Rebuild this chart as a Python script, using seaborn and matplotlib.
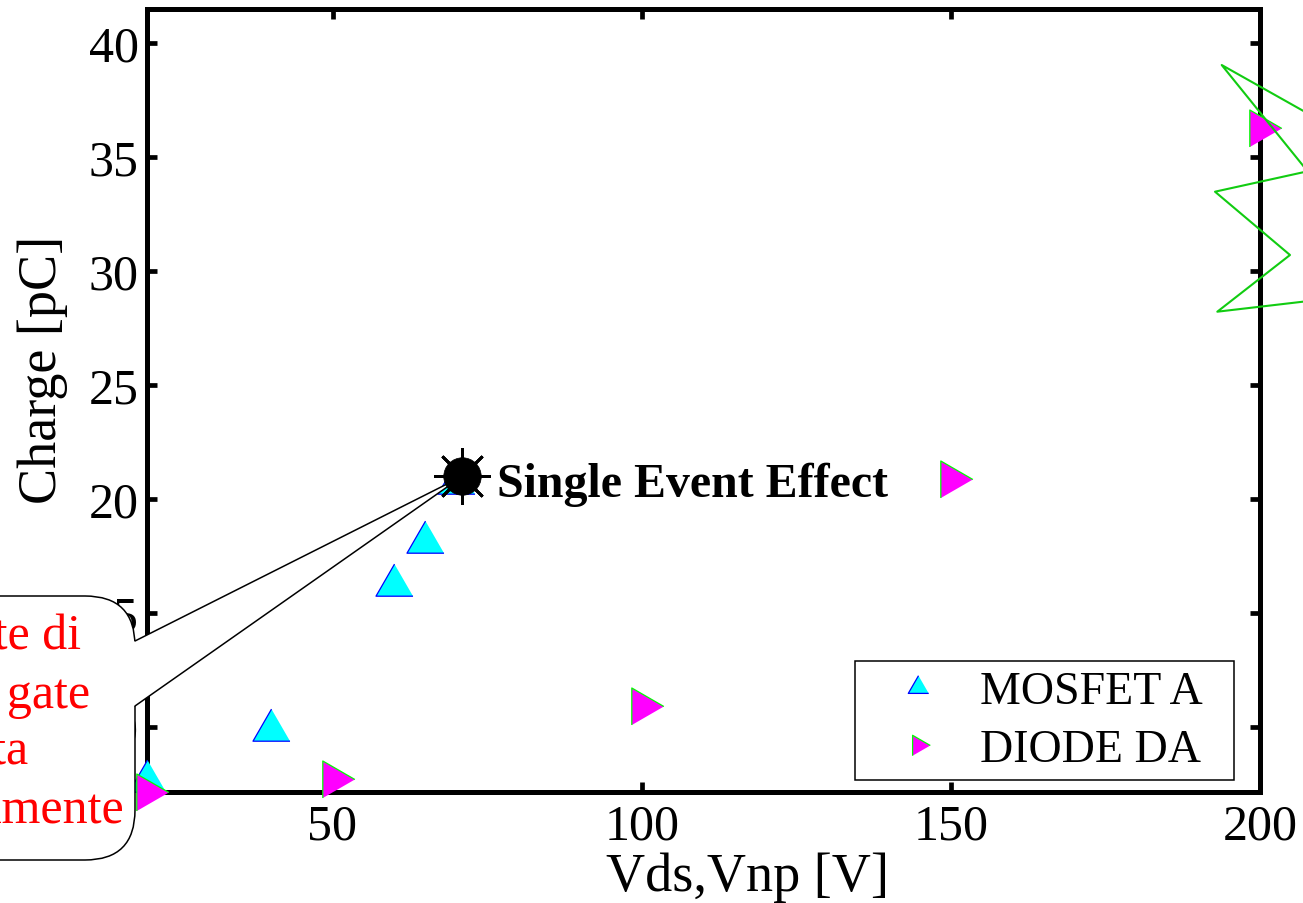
import matplotlib
matplotlib.use("Agg")
import matplotlib.pyplot as plt
import seaborn as sns
import numpy as np
from matplotlib.lines import Line2D
from matplotlib.patches import FancyBboxPatch, Polygon
from matplotlib.transforms import IdentityTransform

# ---------------- data ----------------
mosfet_v = [20, 40, 60, 65, 70]
mosfet_q = [7.62, 9.86, 16.22, 18.1, 20.69]
diode_v = [20, 50, 100, 150, 200]
diode_q = [7.17, 7.74, 10.94, 20.88, 36.3]
see_v = [71]
see_q = [21.0]
x_ticks = [50, 100, 150, 200]
y_ticks = [10, 15, 20, 25, 30, 35, 40]
series_labels = ["MOSFET A", "DIODE DA"]
see_label = "Single Event Effect"
x_label = "Vds,Vnp [V]"
y_label = "Charge [pC]"
callout_lines = ["Corrente di", "perdita del gate", "aumentata", "istantaneamente"]

# ---------------- style ----------------
sns.set_theme(style="white")
plt.rcParams["font.family"] = ["Liberation Serif", "DejaVu Serif"]
for k in ("text.color", "axes.labelcolor", "xtick.color", "ytick.color",
          "axes.edgecolor"):
    plt.rcParams[k] = "black"

W, H = 1303, 904
fig = plt.figure(figsize=(W / 100, H / 100), dpi=100)
L, R, T, B = 147, 1260, 10, 793
ax = fig.add_axes([L / W, 1 - B / H, (R - L) / W, (B - T) / H])
ax.set_xlim(20, 200)
ax.set_ylim(7.15, 41.5)

up_tri = [(0, 1), (-0.866, -0.5), (0.866, -0.5)]
right_tri = [(1, 0), (-0.5, 0.866), (-0.5, -0.866)]

sns.scatterplot(x=mosfet_v, y=mosfet_q, marker=up_tri, s=30.8 ** 2,
                color="#00ffff", edgecolor="#0000ff", linewidth=0.9,
                ax=ax, zorder=5, clip_on=False, legend=False)
sns.scatterplot(x=diode_v, y=diode_q, marker=right_tri, s=30.8 ** 2,
                color="#ff00ff", edgecolor="#00ff00", linewidth=0.9,
                ax=ax, zorder=5, clip_on=False, legend=False)

# spines & ticks
for sp in ax.spines.values():
    sp.set_linewidth(3.6)
    sp.set_color("black")
    sp.set_visible(True)
ax.set_xticks(x_ticks)
ax.set_yticks(y_ticks)
ax.tick_params(axis="both", which="major", direction="in", length=7, width=3.4,
               color="black", labelcolor="black", labelsize=36, top=True,
               right=True, bottom=True, left=True)
ax.tick_params(axis="x", pad=8)
ax.tick_params(axis="y", pad=6)
ax.grid(False)

ax.set_xlabel(x_label, fontsize=39, color="black")
ax.set_ylabel(y_label, fontsize=39, color="black")
ax.xaxis.set_label_coords((748 - L) / (R - L), (B - 853) / (B - T))
ax.yaxis.set_label_coords((68 - L) / (R - L), (B - 370) / (B - T))

# ---------------- callout (display pixels) ----------------
ident = IdentityTransform()
def disp(px, py):
    return (px, H - py)

box = FancyBboxPatch(disp(-300, 861), 435, 861 - 597,
                     boxstyle="round,pad=0,rounding_size=50",
                     transform=ident, facecolor="white", edgecolor="black",
                     linewidth=1.1, zorder=8, clip_on=False)
ax.add_patch(box)

tip = ax.transData.transform((see_v[0], see_q[0]))
b1 = disp(135, 642)
b2 = disp(135, 707)
wedge = Polygon([(b1[0] - 8, b1[1]), b1, tuple(tip), b2, (b2[0] - 8, b2[1])],
                closed=True, transform=ident, facecolor="white",
                edgecolor="none", zorder=9, clip_on=False)
ax.add_patch(wedge)
for b in (b1, b2):
    ax.add_line(Line2D([b[0], tip[0]], [b[1], tip[1]], transform=ident,
                       color="black", linewidth=1.1, zorder=9.5, clip_on=False))

callout_pos = [(81, 650), (90, 708), (28, 765), (124, 823)]
for txt, (px, py) in zip(callout_lines, callout_pos):
    ax.text(*disp(px, py), txt, transform=ident, ha="right", va="baseline",
            color="red", fontsize=36, zorder=10, clip_on=False)

# ---------------- single event effect marker ----------------
sns.scatterplot(x=see_v, y=see_q, marker="o", s=27 ** 2, color="black",
                edgecolor="black", linewidth=0.5, ax=ax, zorder=11,
                clip_on=False, legend=False)
ax.plot(see_v, see_q, linestyle="none", marker=(8, 2, 0), markersize=41,
        markeredgewidth=2.0, color="black", zorder=11, clip_on=False)
ax.text(76.6, 20.15, see_label, fontsize=34.5, fontweight="bold",
        ha="left", va="baseline", color="black", zorder=11)

# ---------------- green zigzag (display pixels) ----------------
zz = [(1320, 121.3), (1221.7, 66), (1307.6, 172.3), (1215, 192.7),
      (1290, 256), (1217.3, 312.7), (1320, 300.7)]
ax.add_line(Line2D([p[0] for p in zz], [H - p[1] for p in zz], transform=ident,
                   color="#11cc11", linewidth=1.5, zorder=12, clip_on=False))

# ---------------- legend ----------------
handles = [
    Line2D([], [], linestyle="none", marker=up_tri, markersize=17,
           markerfacecolor="#00ffff", markeredgecolor="#0000ff",
           markeredgewidth=0.9),
    Line2D([], [], linestyle="none", marker=right_tri, markersize=17,
           markerfacecolor="#ff00ff", markeredgecolor="#00ff00",
           markeredgewidth=0.9),
]
leg = ax.legend(handles, series_labels, loc="upper left",
                bbox_to_anchor=(855 / W, 1 - 776 / H, 379 / W, 114 / H),
                bbox_transform=fig.transFigure, borderaxespad=0, mode="expand",
                fontsize=33, frameon=True, fancybox=False, framealpha=1,
                edgecolor="black", borderpad=0.21, handlelength=2.33,
                handletextpad=0.19, labelspacing=0.33)
leg.get_frame().set_linewidth(1.1)
leg.set_zorder(7)
for t in leg.get_texts():
    t.set_color("black")

fig.savefig("out.png", dpi=100)
